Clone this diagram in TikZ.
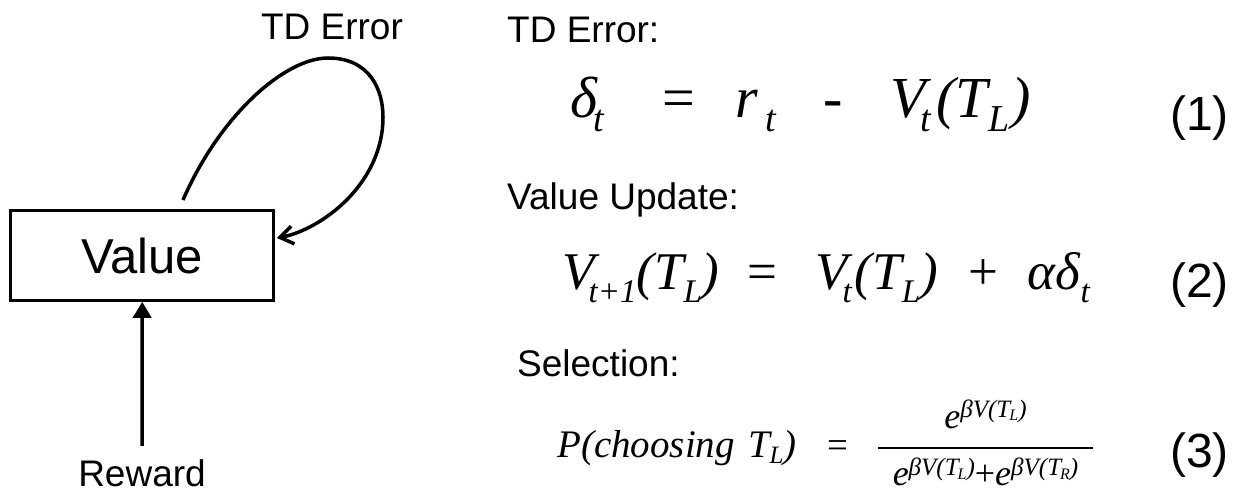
\documentclass[tikz,border=0pt]{standalone}
\usepackage{fontspec}
\setmainfont{Liberation Sans}
\newfontfamily\eqf{Liberation Serif}
\usetikzlibrary{arrows.meta}
\newcommand\fs[1]{\fontsize{#1}{#1}\selectfont}
\newcommand\sbs[3]{\raisebox{-#1pt}{\fs{#2}#3}}
\newcommand\sps[3]{\raisebox{#1pt}{\fs{#2}#3}}
\begin{document}
\begin{tikzpicture}[x=1pt,y=-1pt,
  lbl/.style={inner sep=0pt, font=\fs{37}},
  eqn/.style={inner sep=0pt, anchor=base west},
  eqnum/.style={inner sep=0pt, anchor=base east, font=\fs{48}},
  conn/.style={line width=3.5pt}]
\useasboundingbox (0,0) rectangle (1240,494);
% left diagram
\node[draw, line width=2.6pt, minimum width=263pt, minimum height=90pt, inner sep=0pt, font=\fs{49}] (val) at (142.2,255.5) {Value};
\node[lbl, anchor=base] (rw) at (142,486) {Reward};
\node[lbl, anchor=base] (tdl) at (332,40) {TD Error};
\draw[conn, -{Triangle[length=16pt,width=18pt]}] ([yshift=13pt]rw.north) -- (val.south);
\coordinate (ls) at (183,200);
\draw[conn, -{Straight Barb[length=13pt,width=18pt]}] (ls) .. controls (220,115) and (285,58) .. (328,58)
  .. controls (370,58) and (383,90) .. (383,117)
  .. controls (383,185) and (320,230) .. ([xshift=2pt,yshift=17.5pt]val.east);
% right side labels
\node[lbl, anchor=base west] (h1) at (507,43) {TD Error:};
\node[lbl, anchor=base west] (h2) at (507,210) {Value Update:};
\node[lbl, anchor=base west] (h3) at (517,377) {Selection:};
% equation 1
\node[eqn] (e1a) at (570,118) {\eqf\itshape\fs{58}δ\hspace{-4pt}\sbs{14}{38}{t}};
\node[eqn] (e1b) at (662,118) {\eqf\fs{58}=};
\node[eqn] (e1c) at (735,118) {\eqf\itshape\fs{58}r\hspace{8pt}\sbs{14}{38}{t}};
\node[eqn] (e1d) at (823,118) {\eqf\fs{58}-};
\node[eqn] (e1e) at (890,118) {\eqf\itshape\fs{58}V\hspace{-5pt}\sbs{14}{38}{t}\hspace{5pt}(T\hspace{1pt}\sbs{14}{38}{L}\hspace{2pt})};
\node[eqnum] (n1) at (1229,131) {(1)};
% equation 2
\node[eqn] (e2a) at (562,290) {\eqf\itshape\fs{53}V\hspace{-6pt}\sbs{13}{33}{t+1}(T\sbs{13}{33}{L})};
\node[eqn] (e2b) at (747,290) {\eqf\fs{53}=};
\node[eqn] (e2c) at (815,290) {\eqf\itshape\fs{53}V\hspace{-5pt}\sbs{13}{33}{t}\hspace{3pt}(T\sbs{13}{33}{L})};
\node[eqn] (e2d) at (968,290) {\eqf\fs{53}+};
\node[eqn] (e2e) at (1027,290) {\eqf\itshape\fs{53}αδ\hspace{1pt}\sbs{13}{33}{t}};
\node[eqnum] (n2) at (1229,298) {(2)};
% equation 3
\node[eqn] (e3a) at (557,457) {\eqf\itshape\fs{39}P(choosing\hspace{14pt}T\hspace{-1pt}\sbs{6}{25}{L})};
\node[eqn] (e3b) at (827,457) {\eqf\fs{37}=};
\node[inner sep=0pt, anchor=base] (num) at (985.5,428) {\eqf\itshape\fs{36}e\sps{11}{25}{βV(T\hspace{-1pt}\sbs{4}{16}{L})}};
\node[inner sep=0pt, anchor=base] (den) at (985.5,485) {\eqf\itshape\fs{36}e\sps{10}{25}{βV(T\hspace{-1pt}\sbs{4}{16}{L})}{\upshape+}e\sps{10}{25}{βV(T\hspace{-1pt}\sbs{4}{16}{R})}};
\coordinate (fbl) at (878,448);
\coordinate (fbr) at (1093,448);
\draw[line width=2pt] (fbl) -- (fbr);
\node[eqnum] (n3) at (1229,467) {(3)};
\end{tikzpicture}
\end{document}
